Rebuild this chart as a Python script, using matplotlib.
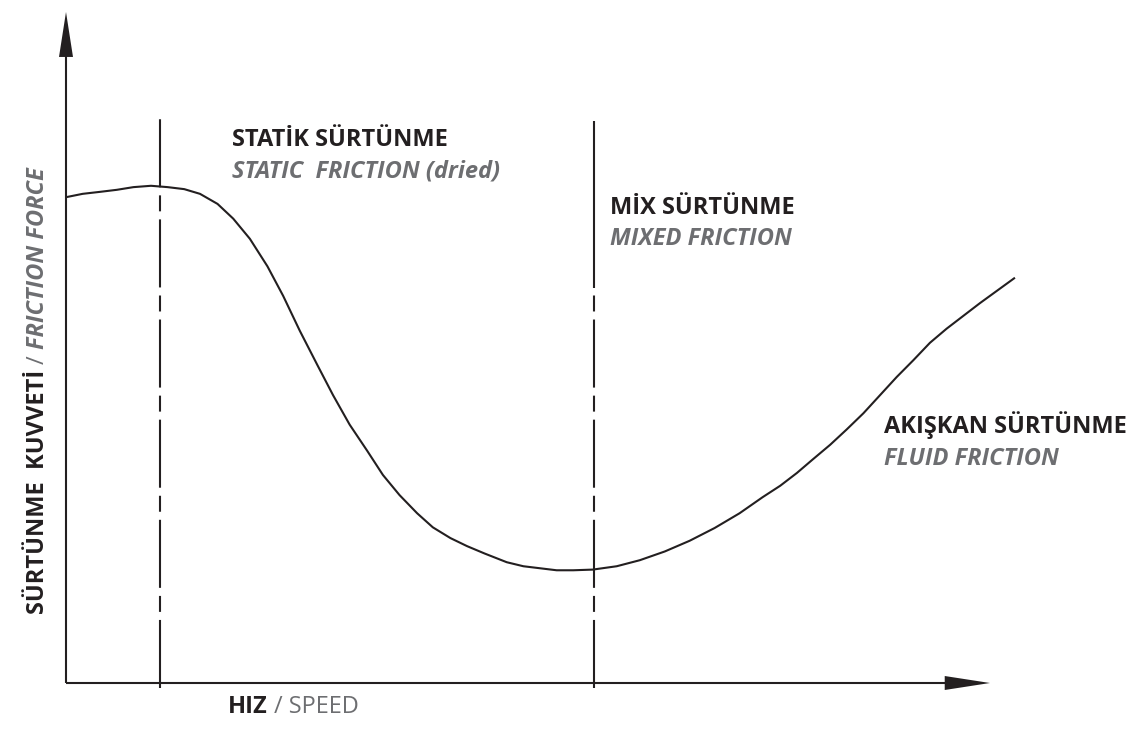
import matplotlib
matplotlib.use("Agg")
import matplotlib.pyplot as plt
from matplotlib.patches import Polygon
from matplotlib.transforms import IdentityTransform

plt.rcParams['font.family'] = ['Open Sans', 'DejaVu Sans']
plt.rcParams['lines.scale_dashes'] = False

# ---- data (in pixel-derived units) ----
# speed (x) and friction force (y) of the Stribeck curve
speed = [0.0, 1.8, 3.7, 5.5, 7.3, 9.2, 11.0, 12.8, 14.5, 16.4, 18.1, 19.9,
         21.8, 23.5, 25.3, 27.2, 28.9, 30.7, 32.6, 34.3, 36.1, 38.0, 39.7,
         41.6, 43.4, 45.3, 47.7, 49.5, 51.3, 53.1, 54.9, 57.0, 59.6, 62.1,
         64.8, 67.5, 70.2, 72.9, 75.4, 77.3, 79.1, 80.8, 82.7, 84.5,
         86.3, 88.1, 89.9, 91.7, 93.5, 95.3, 97.1, 98.9, 100.8, 102.7]
friction = [72.4, 72.9, 73.2, 73.5, 73.9, 74.1, 73.9, 73.6, 72.9, 71.4, 69.2,
            66.2, 62.1, 57.7, 52.5, 47.4, 42.9, 38.5, 34.6, 31.0, 28.0, 25.3,
            23.2, 21.6, 20.4, 19.3, 18.0, 17.4, 17.1, 16.8, 16.8, 16.9, 17.4,
            18.3, 19.6, 21.2, 23.1, 25.3, 27.7, 29.4, 31.3, 33.3, 35.5,
            37.8, 40.2, 42.9, 45.6, 48.1, 50.7, 52.8, 54.7, 56.6, 58.5, 60.4]
boundaries = [10.2, 57.1]          # regime boundaries on the speed axis
boundary_tops = [84.6, 83.7]       # friction level where each boundary line ends
regime_labels_tr = ["STATİK SÜRTÜNME", "MİX SÜRTÜNME", "AKIŞKAN SÜRTÜNME"]
regime_labels_en = ["STATIC  FRICTION (dried)", "MIXED FRICTION", "FLUID FRICTION"]
xlabel_tr, xlabel_en = "HIZ", "/ SPEED"
ylabel_tr, ylabel_sep, ylabel_en = "SÜRTÜNME  KUVVETİ", "/", "FRICTION FORCE"

# ---- layout ----
W, H = 1147, 729
DARK = '#231f20'
GRAY = '#6d6e71'
OX, OY = 66, 683           # pixel of origin
SX, SY = 9.24, 6.71        # pixels per data unit

fig = plt.figure(figsize=(W / 100, H / 100), dpi=100)
ax = fig.add_axes([0, 0, 1, 1])
ax.set_xlim(-OX / SX, (W - OX) / SX)
ax.set_ylim(-(H - OY) / SY, OY / SY)
ax.set_axis_off()

XMAX, YMAX = 100.0, 100.0  # arrow tips
lw = 1.5

# axes with arrowheads
ax.plot([0, XMAX - 3], [0, 0], color=DARK, lw=lw, solid_capstyle='butt')
ax.plot([0, 0], [0, YMAX - 4], color=DARK, lw=lw, solid_capstyle='butt')
ahx = Polygon([[XMAX, 0], [XMAX - 4.9, 7 / SY], [XMAX - 4.9, -7 / SY]],
              closed=True, color=DARK, lw=0)
ahy = Polygon([[0, YMAX], [7 / SX, YMAX - 6.7], [-7 / SX, YMAX - 6.7]],
              closed=True, color=DARK, lw=0)
ax.add_patch(ahx)
ax.add_patch(ahy)

# regime boundary lines (dash-dot), drawn from just below the axis upwards
dash = (0, (49, 5.8, 11.5, 5.8))
bottom = -5 / SY
for i, (b, top) in enumerate(zip(boundaries, boundary_tops)):
    if i == 0:
        ax.plot([b, b], [bottom, top], color=DARK, lw=lw, linestyle=dash,
                dash_capstyle='butt')
    else:
        mid = (OY - 288) / SY
        ax.plot([b, b], [bottom, mid], color=DARK, lw=lw, linestyle=dash,
                dash_capstyle='butt')
        ax.plot([b, b], [mid, top], color=DARK, lw=lw, solid_capstyle='butt')

# curve
ax.plot(speed, friction, color=DARK, lw=lw, solid_joinstyle='round',
        solid_capstyle='butt')

def dx(px):
    return (px - OX) / SX

def dy(py):
    return (OY - py) / SY

FS = 17
# regime labels
label_pos = [(232, 146, 178), (610, 214, 245), (884, 433, 465)]
for (x, y1, y2), t1, t2 in zip(label_pos, regime_labels_tr, regime_labels_en):
    ax.text(dx(x), dy(y1), t1, color=DARK, fontsize=FS, fontweight='bold',
            ha='left', va='baseline')
    ax.text(dx(x), dy(y2), t2, color=GRAY, fontsize=FS, fontweight='bold',
            style='italic', ha='left', va='baseline')

fig.canvas.draw()
renderer = fig.canvas.get_renderer()

# x label
t = ax.text(dx(228), dy(713), xlabel_tr, color=DARK, fontsize=FS,
            fontweight='bold', ha='left', va='baseline')
bb = t.get_window_extent(renderer)
ax.text(bb.x1 + 6, H - 713, xlabel_en, color=GRAY, fontsize=FS,
        transform=IdentityTransform(), ha='left', va='baseline')

# y label (rotated)
t = ax.text(dx(44), dy(614), ylabel_tr, color=DARK, fontsize=FS,
            fontweight='bold', rotation=90, rotation_mode='anchor',
            ha='left', va='baseline')
bb = t.get_window_extent(renderer)
t2 = ax.text(44, bb.y1 + 6, ylabel_sep, color=GRAY, fontsize=FS,
             rotation=90, rotation_mode='anchor', transform=IdentityTransform(),
             ha='left', va='baseline')
bb2 = t2.get_window_extent(renderer)
ax.text(44, bb2.y1 + 6, ylabel_en, color=GRAY, fontsize=FS, style='italic',
        fontweight='bold', rotation=90, rotation_mode='anchor',
        transform=IdentityTransform(), ha='left', va='baseline')

fig.savefig('out.png', dpi=100, facecolor='white')
